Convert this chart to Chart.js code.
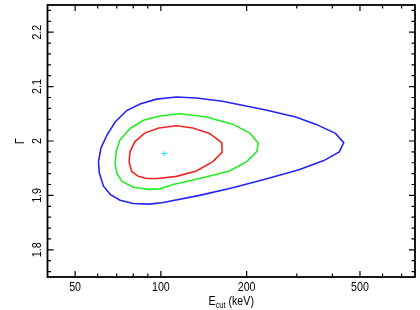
<!DOCTYPE html>
<html>
<head>
<meta charset="utf-8">
<script src="https://cdn.jsdelivr.net/npm/chart.js@4/dist/chart.umd.min.js"></script>
<style>
  body { margin: 0; background: #fff; }
  canvas { display: block; }
</style>
</head>
<body>
<canvas id="grafico" width="420" height="310"></canvas>
<script>
// contour levels: E_cut (keV) and Gamma
var blueE = [60.4, 61.6, 64.7, 69.1, 75.9, 84.5, 96.6, 113.4, 133.2, 164.5, 233.7, 297.4, 349.2, 410.1, 438.4, 422.8, 373.3, 305.3, 233.7, 178.7, 136.8, 101.9, 91.5, 80.0, 71.9, 66.4, 62.9, 60.8, 60.4];
var blueG = [1.962, 1.987, 2.011, 2.035, 2.056, 2.068, 2.077, 2.081, 2.079, 2.073, 2.057, 2.044, 2.031, 2.014, 1.997, 1.980, 1.964, 1.947, 1.930, 1.914, 1.900, 1.887, 1.884, 1.885, 1.891, 1.902, 1.917, 1.941, 1.962];

var greenE = [69.1, 69.7, 71.9, 78.0, 86.8, 99.2, 116.5, 144.3, 178.7, 206.0, 219.7, 217.5, 200.3, 174.1, 136.8, 110.4, 99.2, 90.3, 80.0, 72.9, 70.0, 69.1];
var greenG = [1.959, 1.981, 2.002, 2.023, 2.038, 2.046, 2.050, 2.044, 2.031, 2.014, 1.996, 1.981, 1.962, 1.945, 1.931, 1.920, 1.912, 1.911, 1.915, 1.926, 1.941, 1.959];

var redE = [77.3, 78.0, 81.1, 88.0, 98.4, 113.4, 129.6, 148.2, 163.6, 164.1, 152.2, 133.2, 113.4, 97.6, 89.1, 83.3, 79.0, 77.3];
var redG = [1.962, 1.981, 1.999, 2.015, 2.024, 2.028, 2.024, 2.014, 1.997, 1.979, 1.962, 1.945, 1.935, 1.931, 1.931, 1.935, 1.944, 1.962];

var bestE = [102.7];
var bestG = [1.977];

// axes
var xMin = 40, xMax = 780;
var yMin = 1.75, yMax = 2.25;
var xLabels = [50, 100, 200, 500];
var xMinor = [60, 70, 80, 90, 300, 400, 600, 700];
var yLabels = [1.8, 1.9, 2, 2.1, 2.2];
var yMinor = [1.76, 1.78, 1.82, 1.84, 1.86, 1.88, 1.92, 1.94, 1.96, 1.98, 2.02, 2.04, 2.06, 2.08, 2.12, 2.14, 2.16, 2.18, 2.22, 2.24];

var FONT = '"Liberation Sans", Arial, Helvetica, sans-serif';

function puntos(xs, ys) {
    var out = [];
    for (var i = 0; i < xs.length; i++) {
        out.push({ x: xs[i], y: ys[i] });
    }
    return out;
}

function curva(xs, ys, color) {
    return {
        data: puntos(xs, ys),
        showLine: true,
        borderColor: color,
        borderWidth: 1.6,
        pointRadius: 0,
        fill: false,
        tension: 0
    };
}

function texto(ctx, str, x, y, size, rot) {
    ctx.save();
    ctx.translate(x, y);
    if (rot) ctx.rotate(rot);
    ctx.scale(0.82, 1);
    ctx.font = size + 'px ' + FONT;
    ctx.fillStyle = '#000';
    ctx.textAlign = 'center';
    ctx.textBaseline = 'alphabetic';
    ctx.fillText(str, 0, 0);
    ctx.restore();
}

var marco = {
    id: 'marco',
    afterDraw: function (chart) {
        var ctx = chart.ctx;
        var a = chart.chartArea;
        var sx = chart.scales.x, sy = chart.scales.y;
        var i, p;

        ctx.save();
        ctx.strokeStyle = '#000';
        ctx.lineWidth = 1.2;
        ctx.beginPath();
        function tx(v, len) {
            p = sx.getPixelForValue(v);
            ctx.moveTo(p, a.bottom); ctx.lineTo(p, a.bottom - len);
            ctx.moveTo(p, a.top); ctx.lineTo(p, a.top + len);
        }
        function ty(v, len) {
            p = sy.getPixelForValue(v);
            ctx.moveTo(a.left, p); ctx.lineTo(a.left + len, p);
            ctx.moveTo(a.right, p); ctx.lineTo(a.right - len, p);
        }
        for (i = 0; i < xLabels.length; i++) tx(xLabels[i], 6);
        for (i = 0; i < xMinor.length; i++) tx(xMinor[i], 3.5);
        for (i = 0; i < yLabels.length; i++) ty(yLabels[i], 6);
        for (i = 0; i < yMinor.length; i++) ty(yMinor[i], 3.5);
        ctx.stroke();

        ctx.lineWidth = 1.8;
        ctx.strokeRect(a.left, a.top, a.right - a.left, a.bottom - a.top);
        ctx.restore();

        for (i = 0; i < xLabels.length; i++) {
            texto(ctx, String(xLabels[i]), sx.getPixelForValue(xLabels[i]), a.bottom + 14, 13, 0);
        }
        for (i = 0; i < yLabels.length; i++) {
            texto(ctx, String(yLabels[i]), a.left - 7, sy.getPixelForValue(yLabels[i]), 13, -Math.PI / 2);
        }
        texto(ctx, '\u0393', 24, (a.top + a.bottom) / 2, 13, -Math.PI / 2);

        // x title with subscript
        ctx.save();
        var big = '13px ' + FONT, small = '9px ' + FONT;
        ctx.font = big;
        var w1 = ctx.measureText('E').width;
        var w3 = ctx.measureText(' (keV)').width;
        ctx.font = small;
        var w2 = ctx.measureText('cut').width;
        var total = (w1 + w2 + w3) * 0.82;
        var x0 = (a.left + a.right) / 2 - total / 2;
        var yb = 305;
        ctx.translate(x0, yb);
        ctx.scale(0.82, 1);
        ctx.fillStyle = '#000';
        ctx.textAlign = 'left';
        ctx.textBaseline = 'alphabetic';
        ctx.font = big;
        ctx.fillText('E', 0, 0);
        ctx.font = small;
        ctx.fillText('cut', w1, 3);
        ctx.font = big;
        ctx.fillText(' (keV)', w1 + w2, 0);
        ctx.restore();
    }
};

var ctx = document.getElementById('grafico').getContext('2d');
var myChart = new Chart(ctx, {
    type: 'scatter',
    data: {
        datasets: [
            curva(blueE, blueG, '#2424f4'),
            curva(greenE, greenG, '#26ee26'),
            curva(redE, redG, '#f42424'),
            {
                data: puntos(bestE, bestG),
                pointStyle: 'cross',
                pointRadius: 2.5,
                borderColor: '#00e8ff',
                borderWidth: 1,
                showLine: false
            }
        ]
    },
    options: {
        responsive: false,
        animation: false,
        events: [],
        layout: { padding: { left: 47.5, right: 3, top: 2, bottom: 33 } },
        plugins: { legend: { display: false }, tooltip: { enabled: false } },
        scales: {
            x: { type: 'logarithmic', min: xMin, max: xMax, display: false },
            y: { type: 'linear', min: yMin, max: yMax, display: false }
        }
    },
    plugins: [marco]
});
</script>
</body>
</html>
